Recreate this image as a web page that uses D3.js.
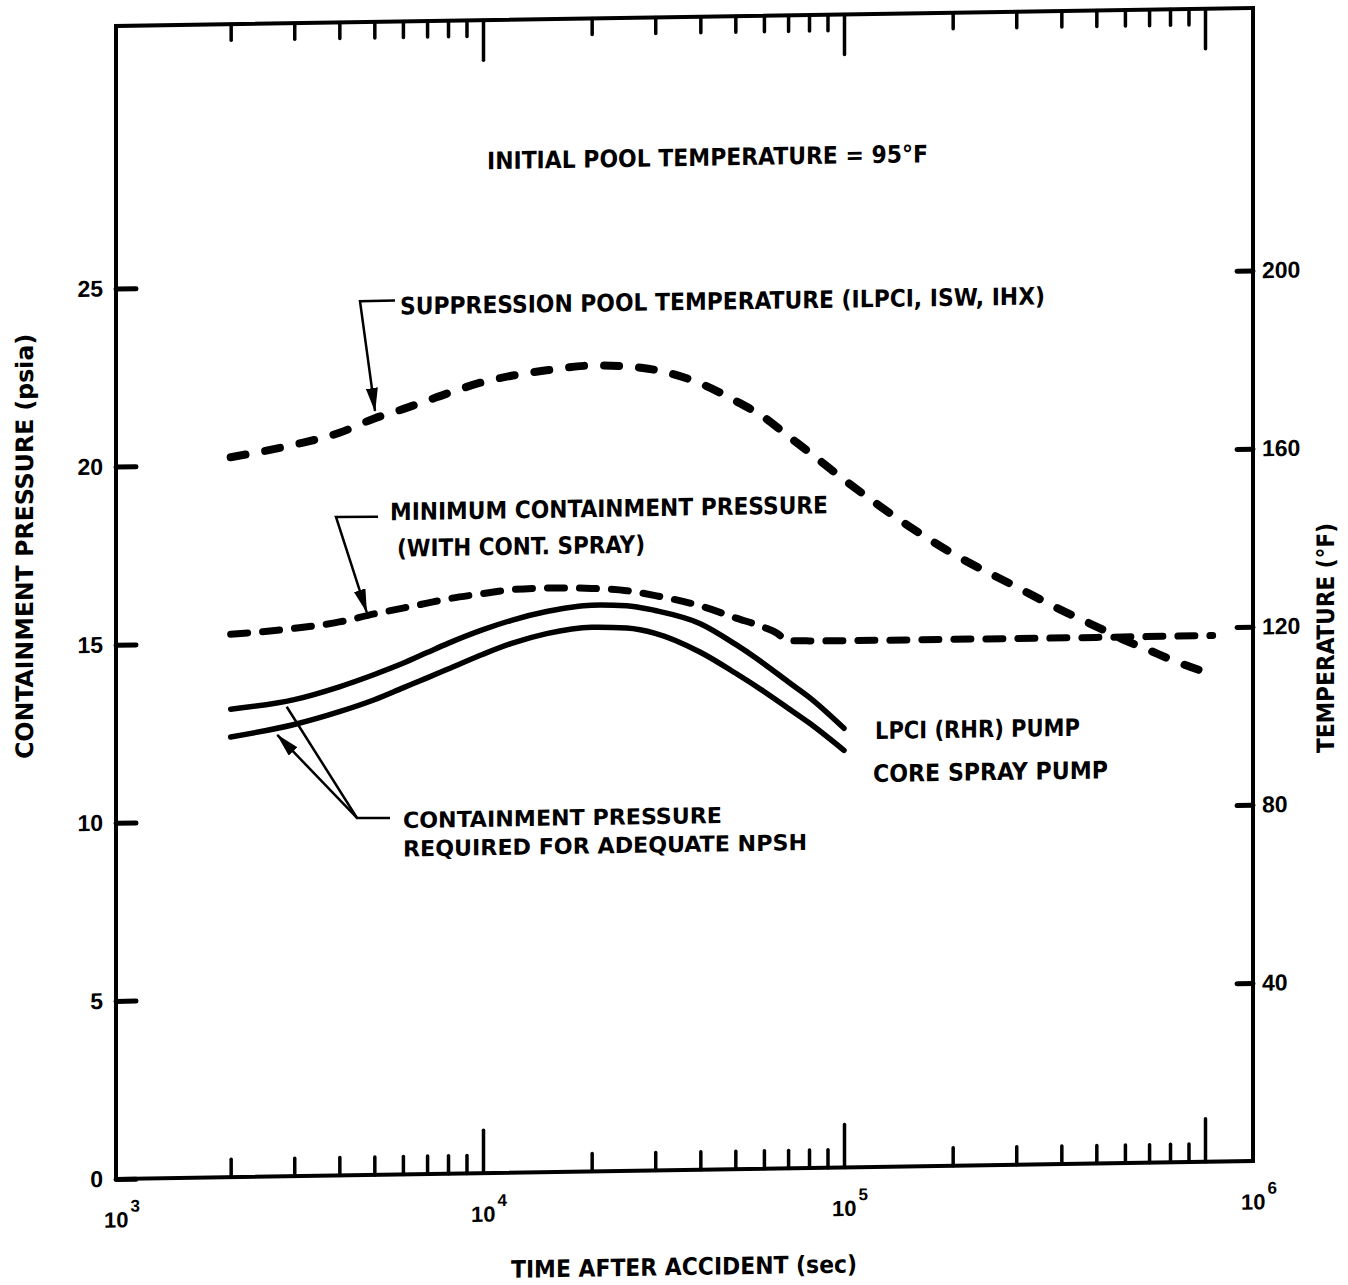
<!DOCTYPE html>
<html>
<head>
<meta charset="utf-8">
<script src="https://cdn.jsdelivr.net/npm/d3@7"></script>
<style>
  html, body { margin: 0; padding: 0; background: #fff; }
  svg { display: block; }
  text { font-family: "DejaVu Sans Condensed", "DejaVu Sans", sans-serif; font-weight: bold; fill: #000; }
  .num text, text.num { font-family: "Liberation Sans", Arial, sans-serif; }
</style>
</head>
<body>
<div id="chart"></div>
<script>
/* ── data ─────────────────────────────────────────────────────── */
var TIME_NPSH       = [2e3, 3e3, 4e3, 5e3, 6e3, 7e3, 8e3, 1e4, 1.2e4, 1.5e4, 2e4, 2.5e4, 3e4, 4e4, 5e4, 6e4, 7e4, 8e4, 1e5];
var LPCI_PSIA       = [13.14, 13.38, 13.72, 14.05, 14.35, 14.64, 14.89, 15.26, 15.51, 15.74, 15.90, 15.87, 15.72, 15.33, 14.74, 14.18, 13.66, 13.22, 12.33];
var CORE_SPRAY_PSIA = [12.36, 12.68, 13.02, 13.34, 13.66, 13.93, 14.17, 14.57, 14.86, 15.12, 15.28, 15.24, 15.08, 14.53, 13.93, 13.40, 12.92, 12.50, 11.71];

var TIME_MIN_PRESS  = [2e3, 3e3, 4e3, 5e3, 6e3, 7e3, 8e3, 1e4, 1.2e4, 1.5e4, 2e4, 2.5e4, 3e4, 4e4, 5e4, 6e4, 6.5e4, 7e4, 8e4, 1e5, 2e5, 5e5, 1.05e6];
var MIN_PRESS_PSIA  = [15.24, 15.38, 15.54, 15.75, 15.90, 16.03, 16.14, 16.27, 16.37, 16.40, 16.37, 16.29, 16.14, 15.83, 15.48, 15.20, 15.04, 14.82, 14.80, 14.79, 14.78, 14.77, 14.77];

var TIME_POOL       = [2e3, 3e3, 4e3, 5e3, 6e3, 7e3, 8e3, 1e4, 1.2e4, 1.5e4, 2e4, 2.5e4, 3e4, 4e4, 5e4, 6e4, 7e4, 8e4, 1e5, 1.5e5, 2e5, 3e5, 4e5, 5e5, 6e5, 7e5, 8e5, 1e6];
var POOL_TEMP_F     = [161.7, 164.3, 166.8, 169.9, 171.9, 173.7, 175.3, 177.7, 179.0, 180.1, 181.0, 180.7, 179.8, 176.6, 172.6, 168.8, 164.5, 160.8, 154.5, 144.0, 137.5, 129.8, 124.4, 120.6, 117.4, 115.1, 113.0, 110.0];

var PSIA_TICKS      = [0, 5, 10, 15, 20, 25];
var TEMP_TICKS      = [40, 80, 120, 160, 200];
var DECADE_TICKS    = [1e4, 1e5, 1e6];
var DECADE_LABELS   = ["3", "4", "5", "6"];

(function () {

    var W = 1348, H = 1285;
    var frame = { left: 116, right: 1253, top: 26, bottom: 1179 };

    var x  = d3.scaleLog().domain([1e3, 1e6]).range([122, 1205]);
    var yP = d3.scaleLinear().domain([0, 25]).range([frame.bottom, 288.5]);
    var yT = d3.scaleLinear().domain([0, 200]).range([frame.bottom, 288.5]);

    var svg = d3.select("#chart").append("svg")
        .attr("width", W).attr("height", H);

    // the scanned sheet is fed a little crooked: shear everything like the scan
    var g = svg.append("g")
        .attr("transform", "translate(116,0) skewY(-0.905) translate(-116,0)");

    var defs = svg.append("defs");
    defs.append("marker")
        .attr("id", "arrow")
        .attr("markerUnits", "userSpaceOnUse")
        .attr("markerWidth", 24).attr("markerHeight", 12)
        .attr("refX", 23).attr("refY", 6)
        .attr("orient", "auto")
        .append("path")
        .attr("d", "M0,0 L24,6 L0,12 Z")
        .attr("fill", "#000");

    /* ── frame ───────────────────────────────────────────────────── */
    g.append("rect")
        .attr("x", frame.left).attr("y", frame.top)
        .attr("width", frame.right - frame.left)
        .attr("height", frame.bottom - frame.top)
        .attr("fill", "none")
        .attr("stroke", "#000")
        .attr("stroke-width", 4);

    /* ── log ticks top and bottom ───────────────────────────────── */
    var minor = [];
    [1e3, 1e4, 1e5].forEach(function (d) {
        for (var k = 2; k <= 9; k++) minor.push(k * d);
    });

    function logTicks(axis, y, values, size) {
        var a = g.append("g")
            .attr("class", "log-ticks")
            .attr("transform", "translate(0," + y + ")")
            .call(axis(x).tickValues(values).tickSize(size).tickFormat(""));
        a.select(".domain").remove();
        a.selectAll("line")
            .attr("stroke", "#000")
            .attr("stroke-width", 3.5)
            .attr("stroke-linecap", "round");
    }
    logTicks(d3.axisBottom, frame.bottom, minor, -18);
    logTicks(d3.axisBottom, frame.bottom, DECADE_TICKS, -43);
    logTicks(d3.axisTop,    frame.top,    minor, -16);
    logTicks(d3.axisTop,    frame.top,    DECADE_TICKS, -40);

    // decade labels: 10^3 and 10^6 sit on the frame corners
    var labelX = [frame.left, x(1e4), x(1e5), frame.right];
    DECADE_LABELS.forEach(function (p, i) {
        g.append("text")
            .attr("class", "num")
            .attr("x", labelX[i] - 12).attr("y", 1227.5)
            .attr("font-size", 22)
            .text("10");
        g.append("text")
            .attr("class", "num")
            .attr("x", labelX[i] + 14.5).attr("y", 1212)
            .attr("font-size", 17)
            .text(p);
    });

    /* ── value axes ─────────────────────────────────────────────── */
    var left = g.append("g")
        .attr("class", "num")
        .attr("transform", "translate(" + frame.left + ",0)")
        .call(d3.axisLeft(yP).tickValues(PSIA_TICKS).tickSize(-20).tickPadding(13));
    var right = g.append("g")
        .attr("class", "num")
        .attr("transform", "translate(" + frame.right + ",0)")
        .call(d3.axisRight(yT).tickValues(TEMP_TICKS).tickSize(-16).tickPadding(9));

    [left, right].forEach(function (a) {
        a.select(".domain").remove();
        a.selectAll("line")
            .attr("stroke", "#000")
            .attr("stroke-width", 5)
            .attr("stroke-linecap", "round");
        a.selectAll("text")
            .style("font-size", "23px")
            .style("font-weight", "bold");
    });

    /* ── curves ─────────────────────────────────────────────────── */
    function pairs(xs, ys) {
        return xs.map(function (t, i) { return [t, ys[i]]; });
    }
    function curve(yScale) {
        return d3.line()
            .x(function (d) { return x(d[0]); })
            .y(function (d) { return yScale(d[1]); })
            .curve(d3.curveMonotoneX);
    }

    var SERIES = [
        { data: pairs(TIME_POOL, POOL_TEMP_F),        y: yT, width: 8,   dash: "15 20" },
        { data: pairs(TIME_MIN_PRESS, MIN_PRESS_PSIA), y: yP, width: 7,   dash: "17 15" },
        { data: pairs(TIME_NPSH, LPCI_PSIA),           y: yP, width: 5.5, dash: null },
        { data: pairs(TIME_NPSH, CORE_SPRAY_PSIA),     y: yP, width: 5.5, dash: null }
    ];

    SERIES.forEach(function (s) {
        g.append("path")
            .attr("d", curve(s.y)(s.data))
            .attr("fill", "none")
            .attr("stroke", "#000")
            .attr("stroke-width", s.width)
            .attr("stroke-linecap", "round")
            .attr("stroke-linejoin", "round")
            .attr("stroke-dasharray", s.dash);
    });

    /* ── annotations ────────────────────────────────────────────── */
    function note(txt, x0, y0, width, size) {
        return g.append("text")
            .attr("x", x0).attr("y", y0)
            .attr("font-size", size || 24)
            .attr("textLength", width)
            .attr("lengthAdjust", "spacingAndGlyphs")
            .text(txt);
    }

    note("INITIAL POOL TEMPERATURE = 95°F", 487, 175, 441);
    note("SUPPRESSION POOL TEMPERATURE (ILPCI, ISW, IHX)", 400, 319, 645);
    note("MINIMUM CONTAINMENT PRESSURE", 390, 524.5, 438);
    note("(WITH CONT. SPRAY)", 397, 561, 248);
    note("CONTAINMENT PRESSURE", 403, 832.5, 319, 22);
    note("REQUIRED FOR ADEQUATE NPSH", 403, 861, 404, 22);
    note("LPCI (RHR) PUMP", 875, 751, 205);
    note("CORE SPRAY PUMP", 873, 794, 235);

    // leaders
    function leader(d, arrow) {
        g.append("path")
            .attr("d", d)
            .attr("fill", "none")
            .attr("stroke", "#000")
            .attr("stroke-width", 2.5)
            .attr("marker-end", arrow ? "url(#arrow)" : null);
    }
    leader("M395,305 L360,305 L375,415", true);
    leader("M378,521 L336,520.5 L366.7,616", true);
    leader("M390,822.3 L357,821.8 L286.7,709.4", false);
    leader("M357,821.8 L277.3,737.5", true);

    /* ── axis titles ────────────────────────────────────────────── */
    g.append("text")
        .attr("transform", "translate(25,545) rotate(-90)")
        .attr("text-anchor", "middle").attr("dy", "0.35em")
        .attr("font-size", 24)
        .attr("textLength", 425).attr("lengthAdjust", "spacingAndGlyphs")
        .text("CONTAINMENT PRESSURE (psia)");

    g.append("text")
        .attr("transform", "translate(1326,657) rotate(-90)")
        .attr("text-anchor", "middle").attr("dy", "0.35em")
        .attr("font-size", 24)
        .attr("textLength", 230).attr("lengthAdjust", "spacingAndGlyphs")
        .text("TEMPERATURE (°F)");

    g.append("text")
        .attr("x", 684).attr("y", 1284)
        .attr("text-anchor", "middle")
        .attr("font-size", 24)
        .attr("textLength", 346).attr("lengthAdjust", "spacingAndGlyphs")
        .text("TIME AFTER ACCIDENT (sec)");

}());
</script>
</body>
</html>
